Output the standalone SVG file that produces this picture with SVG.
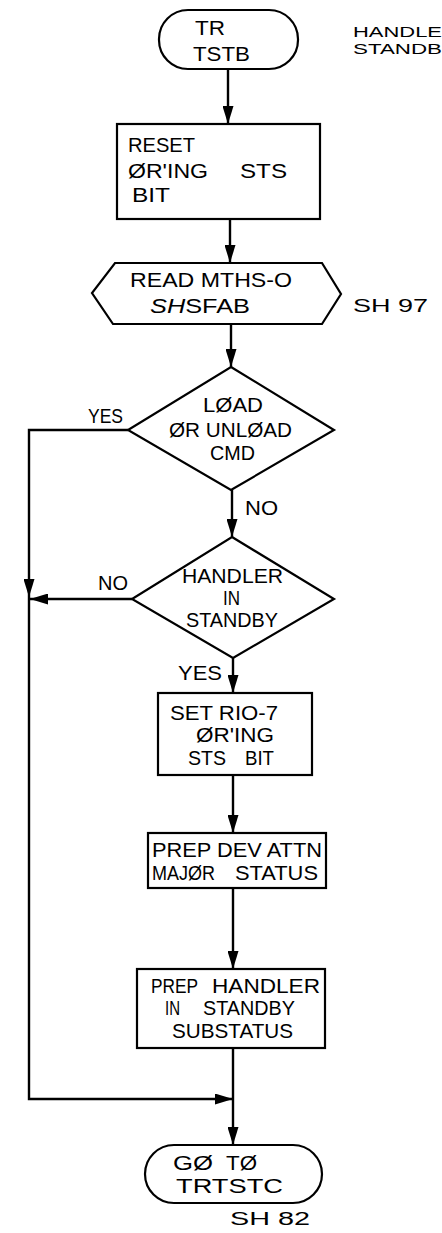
<svg xmlns="http://www.w3.org/2000/svg" width="442" height="1233" viewBox="0 0 442 1233">
<defs>
<marker id="ah" viewBox="0 0 10 10" refX="10" refY="5" markerWidth="18" markerHeight="11" markerUnits="userSpaceOnUse" orient="auto" preserveAspectRatio="none">
<path d="M0,0 L10,5 L0,10 Z" fill="#000"/>
</marker>
<style>
.s{fill:#fff;stroke:#000;stroke-width:2.2}
.c{fill:none;stroke:#000;stroke-width:2.4}
text{font-family:"Liberation Sans",Arial,sans-serif;font-size:21px;fill:#000}
.sm{font-size:18px}
.nt{font-size:15px}
</style>
</defs>
<rect width="442" height="1233" fill="#fff"/>
<g id="connectors">
<path class="c" d="M228,69 V124" marker-end="url(#ah)"/>
<path class="c" d="M230,219 V263" marker-end="url(#ah)"/>
<path class="c" d="M231,324 V367" marker-end="url(#ah)"/>
<path class="c" d="M232,490 V537" marker-end="url(#ah)"/>
<path class="c" d="M233,658 V693" marker-end="url(#ah)"/>
<path class="c" d="M233,775 V833" marker-end="url(#ah)"/>
<path class="c" d="M233,888 V969" marker-end="url(#ah)"/>
<path class="c" d="M233,1048 V1145" marker-end="url(#ah)"/>
<path class="c" d="M128,430 H29 V597" marker-end="url(#ah)"/>
<path class="c" d="M132,599 H30" marker-end="url(#ah)"/>
<path class="c" d="M29,597 V1099 H233" marker-end="url(#ah)"/>
<text x="88" y="423" textLength="35" lengthAdjust="spacingAndGlyphs">YES</text>
<text x="245" y="515" textLength="33" lengthAdjust="spacingAndGlyphs">NO</text>
<text x="98" y="590" textLength="30" lengthAdjust="spacingAndGlyphs">NO</text>
<text x="178" y="680" textLength="44" lengthAdjust="spacingAndGlyphs">YES</text>
</g>
<g id="start">
<rect class="s" x="159" y="10" width="139" height="59" rx="29" ry="29"/>
<text x="195" y="35" textLength="30" lengthAdjust="spacingAndGlyphs">TR</text>
<text x="193" y="61" textLength="57" lengthAdjust="spacingAndGlyphs">TSTB</text>
</g>
<g id="note">
<text class="nt" x="353" y="37" textLength="89" lengthAdjust="spacingAndGlyphs">HANDLE</text>
<text class="nt" x="353" y="54" textLength="89" lengthAdjust="spacingAndGlyphs">STANDB</text>
</g>
<g id="reset">
<rect class="s" x="117" y="124" width="203" height="95"/>
<text x="128" y="152" textLength="67" lengthAdjust="spacingAndGlyphs">RESET</text>
<text x="128" y="178" textLength="80" lengthAdjust="spacingAndGlyphs">ØR'ING</text>
<text x="240" y="178" textLength="47" lengthAdjust="spacingAndGlyphs">STS</text>
<text x="132" y="202" textLength="38" lengthAdjust="spacingAndGlyphs">BIT</text>
</g>
<g id="read">
<path class="s" d="M115,263 H322 L341,294 L322,324 H113 L92,293 Z"/>
<text x="130" y="287" textLength="162" lengthAdjust="spacingAndGlyphs">READ MTHS-O</text>
<text x="150" y="313" textLength="100" lengthAdjust="spacingAndGlyphs"><tspan font-style="italic">SH</tspan>SFAB</text>
<text class="sm" x="353" y="312" textLength="75" lengthAdjust="spacingAndGlyphs">SH 97</text>
</g>
<g id="loadcmd">
<path class="s" d="M231,367 L334,430 L231,490 L128,430 Z"/>
<text x="203" y="412" textLength="60" lengthAdjust="spacingAndGlyphs">LØAD</text>
<text x="169" y="437" textLength="123" lengthAdjust="spacingAndGlyphs">ØR UNLØAD</text>
<text x="210" y="460" textLength="45" lengthAdjust="spacingAndGlyphs">CMD</text>
</g>
<g id="standby">
<path class="s" d="M232,537 L334,599 L233,658 L132,599 Z"/>
<text x="182" y="583" textLength="101" lengthAdjust="spacingAndGlyphs">HANDLER</text>
<text x="223" y="605" textLength="17" lengthAdjust="spacingAndGlyphs">IN</text>
<text x="186" y="627" textLength="92" lengthAdjust="spacingAndGlyphs">STANDBY</text>
</g>
<g id="setrio">
<rect class="s" x="158" y="693" width="154" height="82"/>
<text x="170" y="720" textLength="108" lengthAdjust="spacingAndGlyphs">SET RIO-7</text>
<text x="196" y="742" textLength="78" lengthAdjust="spacingAndGlyphs">ØR'ING</text>
<text x="188" y="765" textLength="38" lengthAdjust="spacingAndGlyphs">STS</text>
<text x="245" y="765" textLength="29" lengthAdjust="spacingAndGlyphs">BIT</text>
</g>
<g id="prepdev">
<rect class="s" x="148" y="833" width="178" height="55"/>
<text x="152" y="857" textLength="170" lengthAdjust="spacingAndGlyphs">PREP DEV ATTN</text>
<text x="152" y="880" textLength="63" lengthAdjust="spacingAndGlyphs">MAJØR</text>
<text x="235" y="880" textLength="83" lengthAdjust="spacingAndGlyphs">STATUS</text>
</g>
<g id="prephandler">
<rect class="s" x="137" y="969" width="188" height="79"/>
<text x="151" y="993" textLength="47" lengthAdjust="spacingAndGlyphs">PREP</text>
<text x="212" y="993" textLength="108" lengthAdjust="spacingAndGlyphs">HANDLER</text>
<text x="165" y="1015" textLength="15" lengthAdjust="spacingAndGlyphs">IN</text>
<text x="203" y="1015" textLength="92" lengthAdjust="spacingAndGlyphs">STANDBY</text>
<text x="172" y="1038" textLength="121" lengthAdjust="spacingAndGlyphs">SUBSTATUS</text>
</g>
<g id="end">
<rect class="s" x="145" y="1145" width="177" height="58" rx="29" ry="29"/>
<text x="173" y="1170" textLength="40" lengthAdjust="spacingAndGlyphs">GØ</text>
<text x="226" y="1170" textLength="31" lengthAdjust="spacingAndGlyphs">TØ</text>
<text x="176" y="1193" textLength="107" lengthAdjust="spacingAndGlyphs">TRTSTC</text>
<text class="sm" x="230" y="1225" textLength="80" lengthAdjust="spacingAndGlyphs">SH 82</text>
</g>
</svg>
